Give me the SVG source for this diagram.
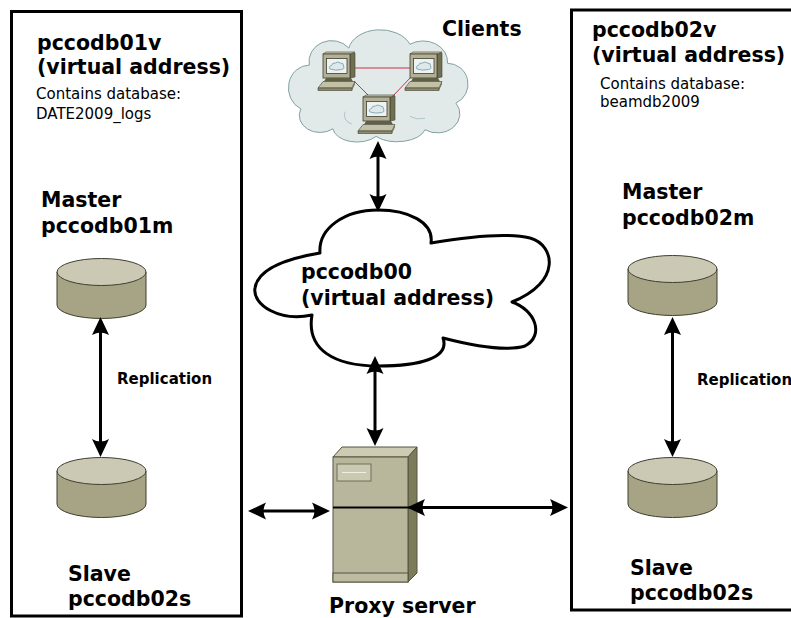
<svg xmlns="http://www.w3.org/2000/svg" xmlns:xlink="http://www.w3.org/1999/xlink" width="791" height="618" viewBox="0 0 791 618">
  <style>
    .box { fill: #ffffff; stroke: #000000; stroke-width: 3; }
    .t { font-family: "DejaVu Sans", "Liberation Sans", sans-serif; fill: #000000; }
    .big { font-size: 20.5px; font-weight: bold; }
    .small { font-size: 15px; }
    .rep { font-size: 15px; font-weight: bold; }
    .link { stroke: #000000; stroke-width: 3; fill: none; marker-start: url(#ahStart); marker-end: url(#ahEnd); }
    .cyl-top { fill: #cbc9b4; stroke: #3f3f30; stroke-width: 1; }
    .cyl-body { fill: #a6a484; stroke: #3f3f30; stroke-width: 1; }
    .lan { stroke: #d0304a; stroke-width: 1; }
  </style>
  <defs>
    <marker id="ahEnd" markerUnits="userSpaceOnUse" orient="auto" markerWidth="30" markerHeight="30" refX="0" refY="0" overflow="visible">
      <path d="M12,0 L-6,-8.5 Q-1,0 -6,8.5 Z" fill="#000000"/>
    </marker>
    <marker id="ahStart" markerUnits="userSpaceOnUse" orient="auto" markerWidth="30" markerHeight="30" refX="0" refY="0" overflow="visible">
      <path d="M-12,0 L6,-8.5 Q1,0 6,8.5 Z" fill="#000000"/>
    </marker>
    <!-- database cylinder, centred on x=0, top ellipse at y=0 -->
    <g id="cylinder">
      <path class="cyl-body" d="M-44.5,0 L-44.5,33 A44.5,13.5 0 0 0 44.5,33 L44.5,0 Z"/>
      <ellipse class="cyl-top" cx="0" cy="0" rx="44.5" ry="13.5"/>
    </g>
    <!-- desktop workstation icon -->
    <g id="workstation">
      <polygon points="32,1 37,0 37,24 32,25" fill="#6f6f52" stroke="#3f3f30" stroke-width="0.6"/>
      <polygon points="5,1 8,-1 37,-1 32,1" fill="#cfcdb6" stroke="#3f3f30" stroke-width="0.6"/>
      <rect x="5" y="1" width="27" height="24" fill="#b2b095" stroke="#3f3f30" stroke-width="0.8"/>
      <rect x="8.5" y="5.5" width="20.5" height="15" fill="#eef2f3" stroke="#3f3f30" stroke-width="0.8"/>
      <path d="M12,16 Q10,13 13.5,12.5 Q14,9.5 17.5,10 Q19.5,8 22.5,10 Q26,10 25.5,13 Q27,16 23.5,16.5 Q18,18 12,16 Z" fill="#dde8ea" stroke="#6d9aa8" stroke-width="0.8"/>
      <polygon points="8,25 33,25 35,28.5 6,28.5" fill="#5f5f45"/>
      <polygon points="5,28.5 37,28.5 34,35 0,35" fill="#c2c0a6" stroke="#3f3f30" stroke-width="0.6"/>
      <polygon points="0,35 34,35 34,37.5 0,37.5" fill="#8c8a6c" stroke="#3f3f30" stroke-width="0.6"/>
      <polygon points="34,35 37,28.5 37,31 34,37.5" fill="#6f6f52"/>
    </g>
  </defs>

  <!-- virtual address pccodb01v -->
  <g id="pccodb01v">
    <rect class="box" x="11.5" y="11.5" width="230" height="604.5"/>
    <text class="t big" x="37" y="50">pccodb01v</text>
    <text class="t big" x="37" y="74">(virtual address)</text>
    <text class="t small" x="36" y="99">Contains database:</text>
    <text class="t small" x="36" y="119">DATE2009_logs</text>
  </g>

  <!-- master database pccodb01m -->
  <g id="pccodb01m">
    <text class="t big" x="41" y="207">Master</text>
    <text class="t big" x="41" y="233">pccodb01m</text>
    <use xlink:href="#cylinder" x="101.5" y="272"/>
  </g>

  <!-- slave database (left) -->
  <g id="pccodb02s-left">
    <use xlink:href="#cylinder" x="101.5" y="471"/>
    <text class="t big" x="68" y="581">Slave</text>
    <text class="t big" x="68" y="606">pccodb02s</text>
  </g>

  <!-- virtual address pccodb02v -->
  <g id="pccodb02v">
    <rect class="box" x="571.5" y="10" width="300" height="600"/>
    <text class="t big" x="592" y="37">pccodb02v</text>
    <text class="t big" x="592" y="62">(virtual address)</text>
    <text class="t small" x="600" y="89">Contains database:</text>
    <text class="t small" x="600" y="107">beamdb2009</text>
  </g>

  <!-- master database pccodb02m -->
  <g id="pccodb02m">
    <text class="t big" x="622" y="199">Master</text>
    <text class="t big" x="622" y="225">pccodb02m</text>
    <use xlink:href="#cylinder" x="672.5" y="269"/>
  </g>

  <!-- slave database (right) -->
  <g id="pccodb02s-right">
    <use xlink:href="#cylinder" x="672.5" y="471"/>
    <text class="t big" x="630" y="575">Slave</text>
    <text class="t big" x="630" y="600">pccodb02s</text>
  </g>

  <!-- client workstations -->
  <g id="clients">
    <g transform="translate(377,87) scale(0.94,0.95) translate(-377,-87)">
      <path d="M305,64 A24,22 0 0 1 347,46 A34,24 0 0 1 412,42 A26,22 0 0 1 452,62 A22,22 0 0 1 461,104 A24,20 0 0 1 428,132 A30,16 0 0 1 376,139 A26,16 0 0 1 330,131 A22,18 0 0 1 296,110 A22,24 0 0 1 305,64 Z" fill="#e1e9e9" stroke="#7c9c9c" stroke-width="1"/>
      <path d="M343,113 Q340,122 350,126" fill="none" stroke="#9fb8b8" stroke-width="0.8"/>
      <path d="M412,118 Q420,122 428,120" fill="none" stroke="#9fb8b8" stroke-width="0.8"/>
    </g>
    <line class="lan" x1="355" y1="68" x2="411" y2="68"/>
    <line class="lan" x1="354" y1="81" x2="370" y2="97"/>
    <line class="lan" x1="411" y1="77" x2="392" y2="97"/>
    <use xlink:href="#workstation" x="318" y="53"/>
    <use xlink:href="#workstation" x="405" y="53"/>
    <use xlink:href="#workstation" x="358" y="96"/>
    <text class="t big" x="442" y="36">Clients</text>
  </g>

  <!-- pccodb00 virtual address cloud -->
  <g id="pccodb00">
    <path d="M320,253 C318,228 345,210 378,210 C408,210 434,222 431,243 C460,238 505,232 530,238 C555,245 562,282 512,302 C535,310 545,335 525,346 C505,352 470,345 443,338 C450,358 420,366 378,366 C335,366 306,350 312,315 C280,322 252,305 255,288 C258,268 290,258 320,253 Z" fill="#ffffff" stroke="#000000" stroke-width="3" stroke-linejoin="round"/>
    <text class="t big" x="301" y="279">pccodb00</text>
    <text class="t big" x="301" y="305">(virtual address)</text>
  </g>

  <!-- proxy server -->
  <g id="proxy">
    <polygon points="333,457 342,447 417,447 408,457" fill="#cdcbb3" stroke="#55553f" stroke-width="1"/>
    <polygon points="408,457 417,447 417,573 408,582" fill="#7c7b5a" stroke="#55553f" stroke-width="1"/>
    <rect x="333" y="457" width="75" height="125" fill="#b8b79c" stroke="#55553f" stroke-width="1"/>
    <rect x="333" y="573" width="75" height="9" fill="#bdbca3" stroke="#55553f" stroke-width="1"/>
    <rect x="337" y="464" width="34" height="17" fill="#cac9b1" stroke="#6f6f58" stroke-width="1"/>
    <line x1="342" y1="472.5" x2="366" y2="472.5" stroke="#efefe6" stroke-width="1"/>
    <text class="t big" x="329" y="613">Proxy server</text>
  </g>

  <!-- connectors -->
  <g id="connectors">
    <line class="link" x1="378" y1="153" x2="378" y2="200"/>
    <line class="link" x1="375" y1="368" x2="375" y2="434"/>
    <line class="link" x1="260" y1="511" x2="318" y2="511"/>
    <line x1="333" y1="507.5" x2="420" y2="507.5" stroke="#000000" stroke-width="2"/>
    <line class="link" x1="419" y1="507.5" x2="556" y2="507.5"/>
    <line class="link" x1="100.5" y1="329" x2="100.5" y2="445"/>
    <text class="t rep" x="117" y="384">Replication</text>
    <line class="link" x1="672.5" y1="329" x2="672.5" y2="445"/>
    <text class="t rep" x="697" y="385">Replication</text>
  </g>
</svg>
